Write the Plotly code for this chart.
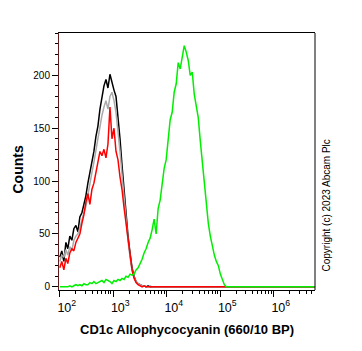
import plotly.graph_objects as go

# Fluorescence intensity (bin centres, log scale)
intensity = [100, 109, 119, 130, 141, 154, 168, 183, 200, 218,
             237, 259, 282, 307, 335, 365, 398, 434, 473, 516,
             563, 613, 669, 729, 795, 866, 944, 1030, 1123, 1224,
             1334, 1455, 1586, 1729, 1885, 2055, 2240, 2442, 2663, 2903,
             3165, 3450, 3761, 4101, 4471, 4874, 5314, 5793, 6316, 6886,
             7507, 8184, 8922, 9727, 10605, 11562, 12605, 13742, 14982, 16333,
             17807, 19413, 21165, 23074, 25156, 27425, 29900, 32597, 35538, 38744,
             42240, 46050, 50205, 54734, 59672, 65056, 70925, 77324, 84300, 91905,
             100196, 109236, 119091, 129835, 141548, 154318, 5900000]

counts_black = [28, 34, 24, 42, 36, 48, 44, 55, 58, 52,
                66, 70, 78, 86, 98, 108, 118, 128, 142, 152,
                168, 180, 190, 196, 188, 201, 192, 186, 180, 162,
                140, 115, 90, 68, 48, 32, 18, 10, 5, 3,
                2, 1, 1, 0, 1, 0, 0, 0, 0, 0,
                0, 0, 0, 0, 0, 0, 0, 0, 0, 0,
                0, 0, 0, 0, 0, 0, 0, 0, 0, 0,
                0, 0, 0, 0, 0, 0, 0, 0, 0, 0,
                0, 0, 0, 0, 0, 0, 0]

counts_grey = [24, 30, 28, 35, 30, 38, 34, 44, 48, 50,
               56, 62, 70, 76, 88, 98, 108, 118, 130, 140,
               152, 162, 170, 176, 168, 180, 184, 176, 165, 148,
               128, 106, 84, 62, 44, 28, 16, 9, 5, 3,
               2, 1, 1, 0, 0, 1, 0, 0, 0, 0,
               0, 0, 0, 0, 0, 0, 0, 0, 0, 0,
               0, 0, 0, 0, 0, 0, 0, 0, 0, 0,
               0, 0, 0, 0, 0, 0, 0, 0, 0, 0,
               0, 0, 0, 0, 0, 0, 0]

counts_red = [18, 24, 16, 27, 22, 32, 36, 34, 42, 46,
              50, 60, 68, 80, 88, 78, 92, 98, 110, 118,
              128, 124, 130, 122, 135, 170, 140, 150, 128, 120,
              104, 92, 75, 60, 44, 28, 16, 8, 4, 2,
              1, 0, 1, 0, 0, 0, 0, 0, 0, 0,
              0, 0, 0, 0, 0, 0, 0, 0, 0, 0,
              0, 0, 0, 0, 0, 0, 0, 0, 0, 0,
              0, 0, 0, 0, 0, 0, 0, 0, 0, 0,
              0, 0, 0, 0, 0, 0, 0]

counts_green = [0, 0, 0, 0, 0, 1, 0, 1, 2, 1,
                2, 1, 3, 2, 2, 4, 3, 5, 3, 4,
                5, 6, 4, 7, 6, 5, 3, 6, 5, 7,
                6, 8, 7, 10, 9, 12, 11, 12, 16, 18,
                22, 26, 32, 36, 42, 46, 54, 64, 50, 74,
                82, 98, 112, 120, 138, 158, 165, 184, 192, 212,
                206, 218, 228, 222, 214, 200, 203, 182, 172, 160,
                138, 118, 98, 82, 60, 48, 38, 30, 24, 20,
                12, 6, 2, 0, 0, 0, 0]

y_tickvals = [0, 50, 100, 150, 200]

FONT = "Arial, Liberation Sans, sans-serif"

fig = go.Figure()
for ys, col in [(counts_black, "#000000"), (counts_grey, "#aaaaaa"),
                (counts_red, "#ff0000"), (counts_green, "#00ee00")]:
    fig.add_trace(go.Scatter(x=intensity, y=ys, mode="lines",
                             line=dict(color=col, width=1.5),
                             showlegend=False, hoverinfo="skip"))

fig.update_layout(
    width=362, height=351,
    margin=dict(l=59, r=47, t=33, b=61),
    paper_bgcolor="white", plot_bgcolor="white",
    font=dict(family=FONT, color="black"),
    xaxis=dict(type="log", range=[1.985, 6.77], showgrid=False, zeroline=False,
               showline=True, linecolor="black", linewidth=1, mirror=True,
               ticks="outside", ticklen=6, tickwidth=1, tickcolor="black",
               dtick=1, exponentformat="power", tickfont=dict(size=10, family=FONT),
               ticklabelshift=7,
               minor=dict(ticks="outside", ticklen=3, tickcolor="black", dtick="D1", showgrid=False)),
    yaxis=dict(range=[-3, 240], showgrid=False, zeroline=False,
               showline=True, linecolor="#5e1c1c", linewidth=1, mirror=False,
               ticks="outside", ticklen=6, tickwidth=1, tickcolor="black",
               tickvals=y_tickvals, tickfont=dict(size=10, family=FONT),
               minor=dict(ticks="outside", ticklen=3, tickcolor="black", dtick=10, showgrid=False)),
    shapes=[dict(type="line", xref="paper", yref="paper", x0=1, x1=1, y0=0, y1=1,
                 line=dict(color="black", width=1))],
    annotations=[
        dict(text="<b>CD1c Allophycocyanin (660/10 BP)</b>", xref="paper", yref="paper",
             x=0.5, y=-0.152, xanchor="center", yanchor="middle", showarrow=False,
             font=dict(size=13, family=FONT, color="black")),
        dict(text="<b>Counts</b>", xref="paper", yref="paper", x=-0.162, y=0.467,
             xanchor="center", yanchor="middle", textangle=-90, showarrow=False,
             font=dict(size=14, family=FONT, color="black")),
        dict(text="Copyright (c) 2023 Abcam Plc", xref="paper", yref="paper",
             x=1.045, y=0.327, xanchor="center", yanchor="middle", textangle=-90,
             showarrow=False, font=dict(size=10, family=FONT, color="black")),
    ],
)

fig.write_html("out.html")
